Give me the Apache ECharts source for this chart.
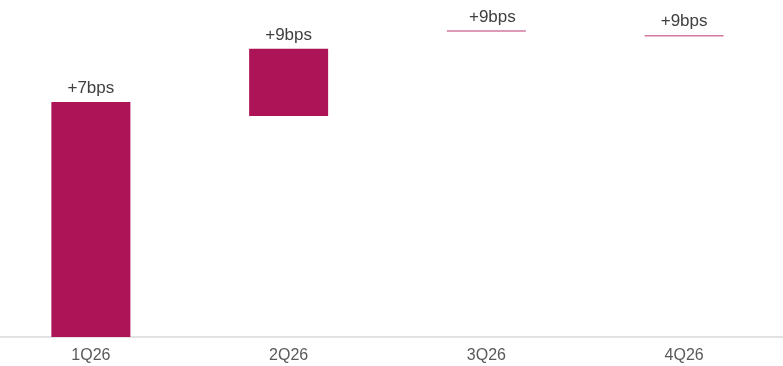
<!DOCTYPE html>
<html>
<head>
<meta charset="utf-8">
<script src="https://cdn.jsdelivr.net/npm/echarts@6/dist/echarts.min.js"></script>
<style>
  html, body { margin: 0; padding: 0; background: #fff; }
  #chart { width: 783px; height: 366px; }
</style>
</head>
<body>
<div id="chart"></div>
<script>
// quarters and the floating bars (invisible base + visible step)
var categories = ['1Q26', '2Q26', '3Q26', '4Q26'];
var baseValues = [0, 65.6, 90.6, 89.2];
var stepValues = [69.7, 19.9, 0.4, 0.4];
var stepLabels = ['+7bps', '+9bps', '+9bps', '+9bps'];

var myChart = echarts.init(document.getElementById('chart'));

var stepData = stepValues.map(function (v, i) {
    var item = { value: v };
    // the last two are only a thin line
    if (v < 1) {
        item.itemStyle = { color: '#d1789f' };
    }
    // 3Q label sits a little right of centre in the original
    if (i === 2) {
        item.label = { offset: [6, 0] };
    }
    return item;
});

option = {
    animation: false,
    grid: { left: -8, right: 0, top: 0, bottom: 29, outerBoundsMode: 'none' },
    xAxis: {
        type: 'category',
        data: categories,
        axisTick: { show: false },
        axisLine: { lineStyle: { color: '#d9d9d9', width: 1.5 } },
        axisLabel: {
            color: '#595959',
            fontFamily: 'Liberation Sans',
            fontSize: 16,
            margin: 11
        }
    },
    yAxis: {
        type: 'value',
        min: 0,
        max: 100,
        show: false,
        splitLine: { show: false }
    },
    series: [
        {
            name: 'base',
            type: 'bar',
            stack: 'wf',
            barWidth: 79,
            itemStyle: { color: 'transparent' },
            data: baseValues
        },
        {
            name: 'step',
            type: 'bar',
            stack: 'wf',
            barWidth: 79,
            itemStyle: { color: '#ad1457' },
            label: {
                show: true,
                position: 'top',
                distance: 5,
                color: '#404040',
                fontFamily: 'Liberation Sans',
                fontSize: 17,
                formatter: function (p) {
                    return stepLabels[p.dataIndex];
                }
            },
            data: stepData
        }
    ]
};

myChart.setOption(option);
</script>
</body>
</html>
